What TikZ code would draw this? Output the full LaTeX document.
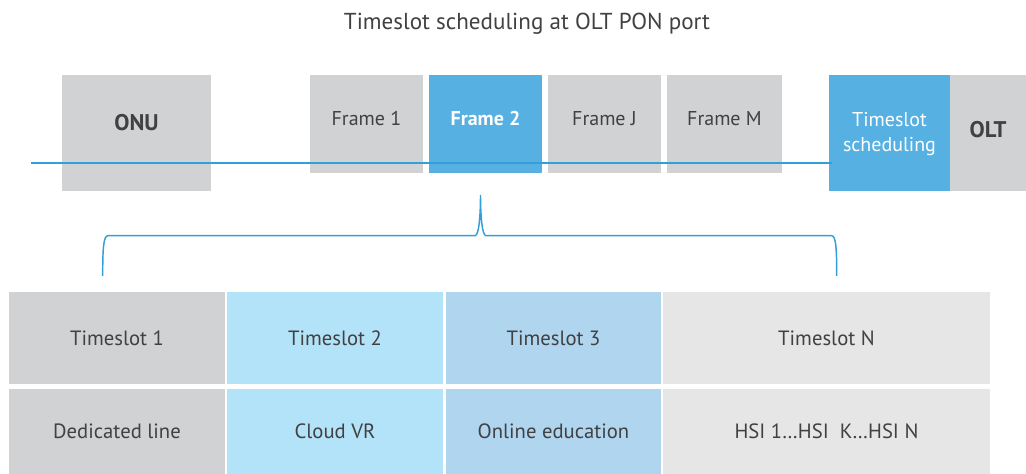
\documentclass[tikz,border=0pt]{standalone}
\usepackage{fontspec}
\setmainfont{PT Sans}
\definecolor{gry}{HTML}{D1D2D4}
\definecolor{blu}{HTML}{56B0E2}
\definecolor{lblu}{HTML}{B3E3F8}
\definecolor{mblu}{HTML}{B0D5EF}
\definecolor{lgry}{HTML}{E6E6E6}
\definecolor{txt}{HTML}{414042}
\definecolor{linkblue}{HTML}{339FDA}
\newcommand\blk[6]{\node[blkbox,minimum width={(#5-#3)*0.75pt},minimum height={(#6-#4)*0.75pt},fill=#2] (#1) at (#3,#4) {};}
\tikzset{
  blkbox/.style={inner sep=0pt,outer sep=0pt,anchor=north west,draw=none},
  lbl/.style={text=txt,inner sep=0pt,font=\fontsize{15.5}{18}\selectfont},
  blbl/.style={text=txt,inner sep=0pt,font=\fontsize{17}{20}\selectfont\bfseries},
  tlbl/.style={text=txt,inner sep=0pt,font=\fontsize{17.3}{20}\selectfont},
  flbl/.style={text=txt,inner sep=0pt,font=\fontsize{15}{18}\selectfont},
  bluline/.style={draw=linkblue,line width=1.5pt},
}
\begin{document}
\begin{tikzpicture}[x=0.75pt,y=-0.75pt]
\useasboundingbox (0,0) rectangle (1026,474);
% title
\node[tlbl] (title) at (527,24) {Timeslot scheduling at OLT PON port};
% top row
\blk{onu}{gry}{62}{75}{211}{191}
\blk{f1}{gry}{310}{75}{423}{173}
\blk{f2}{blu}{429}{75}{542}{173}
\blk{fj}{gry}{548}{75}{661}{173}
\blk{fm}{gry}{667}{75}{782}{173}
\blk{tss}{blu}{829}{75}{950}{191}
\blk{olt}{gry}{950}{75}{1026}{191}
\coordinate (lstart) at (31,163.5);
\coordinate (lend) at (832,163.5);
\draw[bluline] (lstart) -- (lend);
\node[blbl] (onul) at (onu.center |- 0,123) {ONU};
\node[flbl] (f1l) at (f1.center |- 0,119) {Frame 1};
\node[flbl,text=white] (f2l) at (f2.center |- 0,119) {\textbf{Frame 2}};
\node[flbl] (fjl) at (fj.center |- 0,119) {Frame J};
\node[flbl] (fml) at (fm.center |- 0,119) {Frame M};
\node[flbl,text=white,align=center] (tssl) at (tss.center |- 0,134) {Timeslot\\[1.2pt]scheduling};
\node[blbl] (oltl) at (olt.center |- 0,130) {OLT};
% brace
\coordinate (bl) at (102.7,276);
\coordinate (bp) at (480.5,195);
\coordinate (br) at (836.7,276);
\draw[bluline,line width=1.1pt]
  (bl) .. controls (102.7,248) and (103.5,235.7) .. (108,235.7)
  -- (475,235.7) .. controls (479,235.7) and (480.5,215) .. (bp)
  .. controls (480.5,215) and (482,235.7) .. (486,235.7)
  -- (831.5,235.7) .. controls (836,235.7) and (836.7,248) .. (br);
% table
\blk{t1}{gry}{9}{292}{225}{384.5}
\blk{t2}{lblu}{227}{292}{443}{384.5}
\blk{t3}{mblu}{446}{292}{661}{384.5}
\blk{tn}{lgry}{663}{292}{990}{384.5}
\blk{s1}{gry}{9}{389}{225}{474}
\blk{s2}{lblu}{227}{389}{443}{474}
\blk{s3}{mblu}{446}{389}{661}{474}
\blk{sn}{lgry}{663}{389}{990}{474}
\node[lbl] (t1l) at (t1.center) {Timeslot 1};
\node[lbl] (t2l) at (t2.center) {Timeslot 2};
\node[lbl] (t3l) at (t3.center) {Timeslot 3};
\node[lbl] (tnl) at (tn.center) {Timeslot N};
\node[lbl] (s1l) at (s1.center) {Dedicated line};
\node[lbl] (s2l) at (s2.center) {Cloud VR};
\node[lbl] (s3l) at (s3.center) {Online education};
\node[lbl] (snl) at (sn.center) {HSI 1\ldots HSI\ \ K\ldots HSI N};
\end{tikzpicture}
\end{document}
